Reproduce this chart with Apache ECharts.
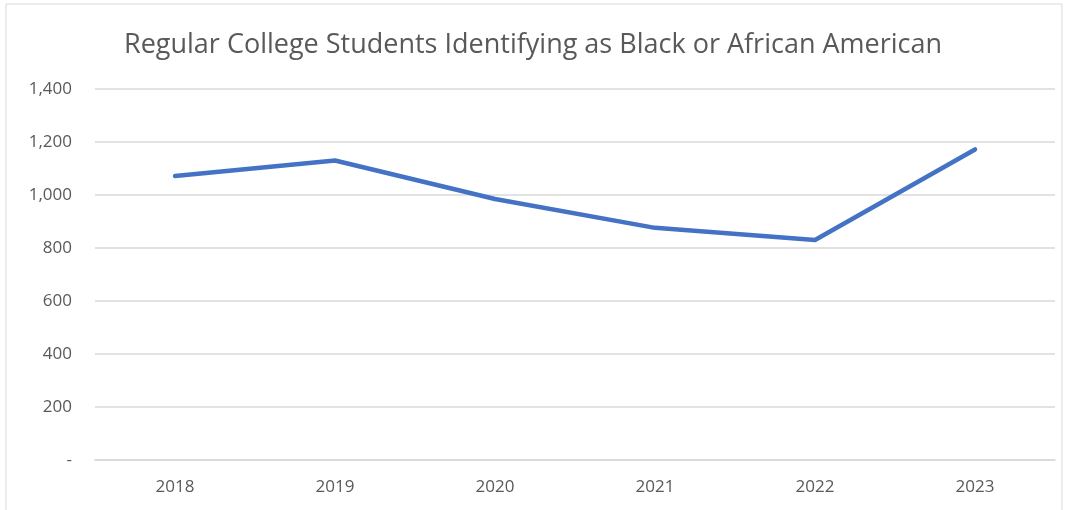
<!DOCTYPE html>
<html><head><meta charset="utf-8">
<script src="https://cdn.jsdelivr.net/npm/echarts@6/dist/echarts.min.js"></script>
<style>html,body{margin:0;padding:0;background:#fff}#c{width:1066px;height:510px}</style>
</head><body><div id="c"></div>
<script>
const categories = ['2018','2019','2020','2021','2022','2023'];
const students = [1072, 1130, 985, 876, 830, 1172];
const titleText = 'Regular College Students Identifying as Black or African American';

const chart = echarts.init(document.getElementById('c'), null, {renderer:'canvas'});
chart.setOption({
  animation:false,
  backgroundColor:'#fff',
  title:{text:titleText,left:'center',top:27,
    textStyle:{fontFamily:'Open Sans',fontSize:27,fontWeight:'normal',color:'#595959'}},
  graphic:[{type:'rect',shape:{x:6,y:4,width:1056,height:520},
    style:{fill:'none',stroke:'#d9d9d9',lineWidth:1},silent:true}],
  grid:{left:95,right:11,top:89,bottom:50},
  xAxis:{type:'category',data:categories,boundaryGap:true,
    axisLine:{show:true,lineStyle:{color:'#d9d9d9',width:1.5}},
    axisTick:{show:false},
    axisLabel:{color:'#595959',fontFamily:'Open Sans',fontSize:17,margin:19}},
  yAxis:{type:'value',min:0,max:1400,interval:200,
    axisLine:{show:false},axisTick:{show:false},
    splitLine:{lineStyle:{color:'#d9d9d9',width:1.5}},
    axisLabel:{color:'#595959',fontFamily:'Open Sans',fontSize:17,margin:23,
      formatter:v=>v===0?'-':v.toLocaleString('en-US')}},
  series:[{type:'line',data:students,symbol:'none',
    lineStyle:{color:'#4472C4',width:4.5,cap:'round',join:'round'}}]
});
</script></body></html>
